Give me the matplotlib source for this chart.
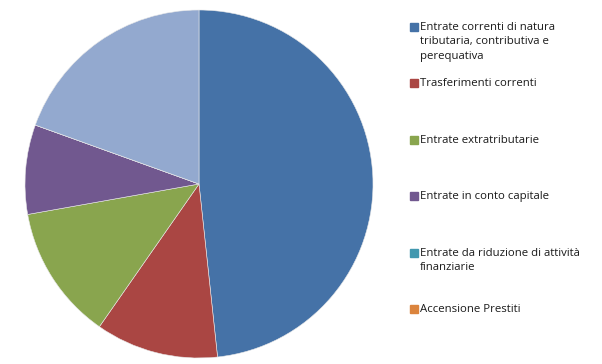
import matplotlib.pyplot as plt

# ---------------------------
# Data (percent shares)
# ---------------------------
labels = [
    "Entrate correnti di natura\ntributaria, contributiva e\nperequativa",
    "Trasferimenti correnti",
    "Entrate extratributarie",
    "Entrate in conto capitale",
    "Entrate da riduzione di attività\nfinanziarie",
    "Accensione Prestiti",
    "Entrate per conto terzi e partite di giro",
]
values = [48.3, 11.4, 12.5, 8.3, 0.0, 0.0, 19.5]
colors = ["#4572A7", "#AA4643", "#89A54E", "#71588F", "#4198AF", "#DB843D", "#93A9CF"]
n_legend = 6  # the last slice is cut off from the legend in the original

plt.rcParams['font.family'] = ['Open Sans', 'DejaVu Sans']

W, H = 602, 364
fig = plt.figure(figsize=(W / 100, H / 100), dpi=100)

# pie centre (199, 184) px, radius 174 px
cx, cy, r = 199, 184, 174
ax = fig.add_axes([(cx - r) / W, (H - cy - r) / H, 2 * r / W, 2 * r / H])
ax.pie(values, colors=colors, startangle=90, counterclock=False, radius=1,
       wedgeprops=dict(edgecolor="#e8e8e8", linewidth=0.4))
ax.set_xlim(-1, 1)
ax.set_ylim(-1, 1)
ax.set_aspect("equal")
ax.axis("off")

# legend, laid out like the Excel one
y0, step = 27, 56.4
for i in range(n_legend):
    y = y0 + i * step
    fig.patches.append(plt.Rectangle((410 / W, 1 - (y + 4) / H), 8 / W, 8 / H,
                                     transform=fig.transFigure, color=colors[i]))
    fig.text(420 / W, 1 - (y - 5) / H, labels[i], fontsize=8.2, va="top", ha="left",
             color="#1a1a1a", linespacing=1.42)

fig.savefig("out.png", dpi=100)
